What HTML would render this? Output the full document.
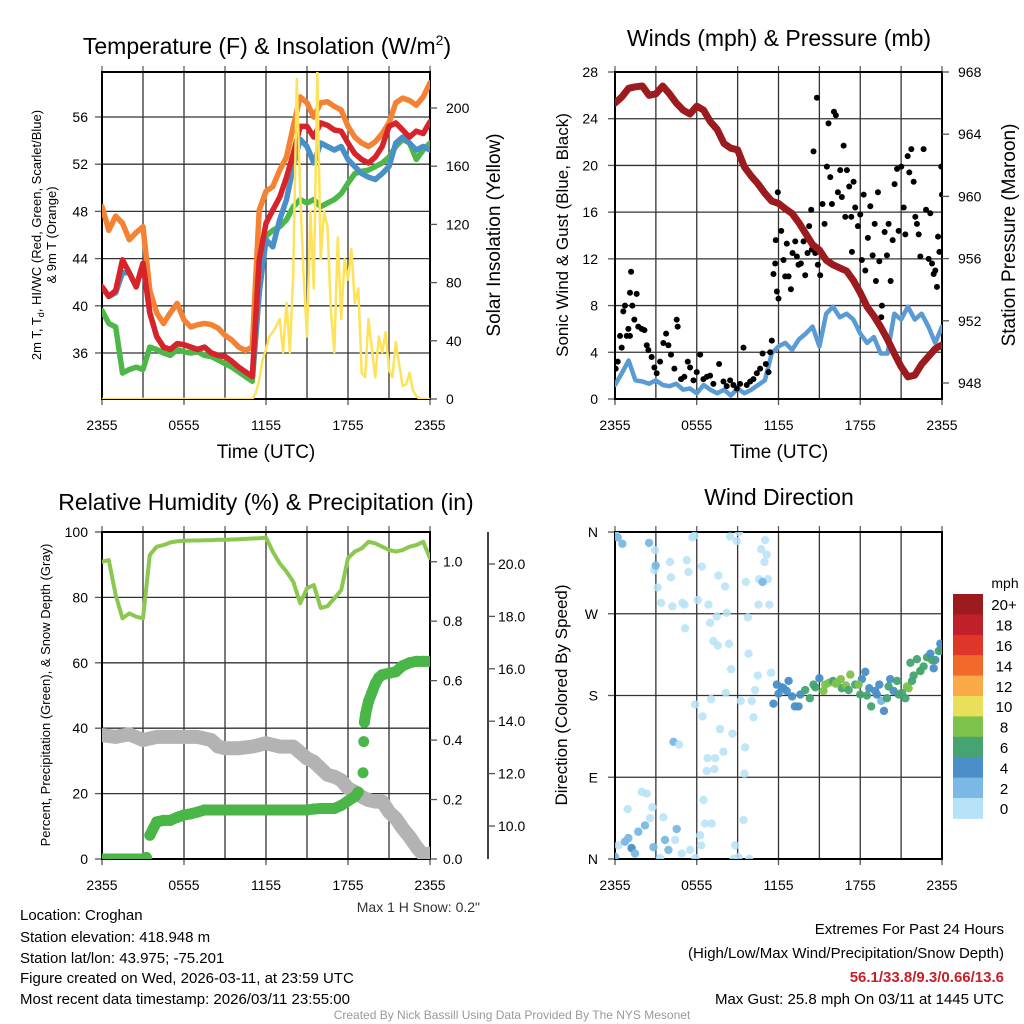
<!DOCTYPE html>
<html><head><meta charset="utf-8"><title>Croghan Mesonet Meteogram</title>
<style>
html,body{margin:0;padding:0;background:#fff;}
svg{display:block;font-family:"Liberation Sans",Arial,sans-serif;}
</style></head>
<body>
<svg id="fig" xmlns="http://www.w3.org/2000/svg" width="1024" height="1024" viewBox="0 0 1024 1024">
<rect x="0" y="0" width="1024" height="1024" fill="#fff"/>
<defs>
<clipPath id="c1"><rect x="102" y="72" width="328" height="327"/></clipPath>
<clipPath id="c2"><rect x="615" y="72" width="327" height="327"/></clipPath>
<clipPath id="c3"><rect x="102" y="532" width="328" height="327"/></clipPath>
<clipPath id="c4"><rect x="615" y="532" width="327" height="327"/></clipPath>
</defs>
<text x="267" y="54" font-size="23" text-anchor="middle">Temperature (F) &amp; Insolation (W/m<tspan dy="-9" font-size="14">2</tspan><tspan dy="9">)</tspan></text>
<text x="779" y="46" font-size="23" text-anchor="middle">Winds (mph) &amp; Pressure (mb)</text>
<text x="266" y="510" font-size="23" text-anchor="middle">Relative Humidity (%) &amp; Precipitation (in)</text>
<text x="779" y="505" font-size="23" text-anchor="middle">Wind Direction</text>
<text transform="translate(41,235) rotate(-90)" font-size="13" text-anchor="middle">2m T, T<tspan font-size="9" dy="3">d</tspan><tspan dy="-3">, HI/WC (Red, Green, Scarlet/Blue)</tspan></text>
<text transform="translate(56,235) rotate(-90)" font-size="13" text-anchor="middle">&amp; 9m T (Orange)</text>
<text transform="translate(500,235) rotate(-90)" font-size="19" text-anchor="middle">Solar Insolation (Yellow)</text>
<text x="266" y="458" font-size="19" text-anchor="middle">Time (UTC)</text>
<text transform="translate(568,235) rotate(-90)" font-size="17" text-anchor="middle">Sonic Wind &amp; Gust (Blue, Black)</text>
<text transform="translate(1015,235) rotate(-90)" font-size="19" text-anchor="middle">Station Pressure (Maroon)</text>
<text x="779" y="458" font-size="19" text-anchor="middle">Time (UTC)</text>
<text transform="translate(50,695) rotate(-90)" font-size="13" text-anchor="middle">Percent, Precipitation (Green), &amp; Snow Depth (Gray)</text>
<text transform="translate(567,695) rotate(-90)" font-size="17" text-anchor="middle">Direction (Colored By Speed)</text>
<text x="480" y="912" font-size="14" text-anchor="end" fill="#333">Max 1 H Snow: 0.2"</text>
<g font-size="15">
<text x="20" y="920">Location: Croghan</text>
<text x="20" y="942">Station elevation: 418.948 m</text>
<text x="20" y="963">Station lat/lon: 43.975; -75.201</text>
<text x="20" y="983">Figure created on Wed, 2026-03-11, at 23:59 UTC</text>
<text x="20" y="1004">Most recent data timestamp: 2026/03/11 23:55:00</text>
</g>
<g font-size="15" text-anchor="end">
<text x="1004" y="934">Extremes For Past 24 Hours</text>
<text x="1004" y="958">(High/Low/Max Wind/Precipitation/Snow Depth)</text>
<text x="1004" y="982" fill="#c8202a" font-weight="bold">56.1/33.8/9.3/0.66/13.6</text>
<text x="1004" y="1004">Max Gust: 25.8 mph On 03/11 at 1445 UTC</text>
</g>
<text x="512" y="1019" font-size="12" text-anchor="middle" fill="#999">Created By Nick Bassill Using Data Provided By The NYS Mesonet</text>
<text x="1005" y="588" font-size="14" text-anchor="middle">mph</text>
</svg>
<script>
// ===== DATA =====
const halfHours = Array.from({length:49},(_,i)=>i*0.5);
const xTickLabels = ["2355","0555","1155","1755","2355"];
const xTickHours = [0,6,12,18,24];
const temp9m = [48.4,46.4,47.6,47.0,45.6,46.2,46.7,41.3,39.4,38.5,39.4,40.2,38.8,38.2,38.4,38.5,38.4,38.1,37.5,37.1,36.5,36.2,36.5,48.1,49.7,50.1,51.5,52.6,55.2,57.7,57.2,56.0,57.2,57.3,56.9,56.6,55.2,54.3,53.8,53.5,53.9,54.6,55.5,57.2,57.6,57.4,57.0,57.7,58.9];
const temp2m = [41.6,40.8,41.3,43.9,42.8,41.6,43.6,39.4,37.4,36.5,36.3,36.8,36.7,36.5,36.3,36.5,36.0,35.8,35.7,35.3,34.8,34.4,34.0,43.9,47.0,48.1,49.2,50.9,52.9,55.2,55.2,54.3,55.5,55.3,54.9,54.8,53.8,52.9,52.4,52.1,52.6,53.5,55.2,55.5,54.9,54.3,54.8,54.6,55.6];
const dewpoint = [39.6,38.5,38.2,34.3,34.6,34.8,34.6,36.5,36.3,36.0,35.8,36.3,36.1,36.0,36.1,35.8,35.7,35.4,35.1,34.8,34.4,34.0,33.6,41.1,45.9,46.4,46.7,47.3,48.4,49.0,48.7,49.0,48.4,48.7,49.0,49.5,50.4,51.2,51.4,51.5,51.8,52.1,52.6,53.5,54.1,53.8,52.4,53.2,53.8];
const heatWindChill = [41.6,40.8,41.1,42.8,42.8,41.6,43.6,39.4,37.4,36.5,36.3,36.8,36.7,36.5,36.3,36.5,36.0,35.8,35.7,35.3,34.8,34.4,34.0,41.1,45.6,45.0,47.3,49.0,51.8,54.1,53.5,52.1,53.8,53.5,53.2,53.5,52.4,51.8,51.2,50.9,50.7,51.2,51.8,53.8,54.3,53.8,53.2,53.5,53.2];
const solarStartHour = 11;
const solar = [0,4,13,27,34,43,46,50,55,32,66,32,87,220,141,85,43,129,76,225,96,129,118,61,32,111,55,96,82,103,66,76,18,15,55,34,15,43,32,46,20,15,39,23,9,10,18,6,2,0,0,0,0];
const tempTicks = [36,40,44,48,52,56];
const solarTicks = [0,40,80,120,160,200];
const sonicWind = [1.2,2.2,3.3,1.6,1.5,1.3,1.6,1.2,1.1,1.3,0.8,0.9,0.5,1.2,0.8,0.5,0.8,0.3,0.9,0.5,0.8,1.2,1.6,3.9,4.5,4.8,4.2,5.1,5.6,6.2,4.5,7.3,7.9,7.0,7.3,6.8,5.6,4.8,5.3,3.9,3.9,7.3,6.8,7.9,6.8,7.3,6.2,4.8,6.2];
const pressure = [966.0,966.4,966.95,967.05,967.1,966.5,966.6,967.1,966.6,966.0,965.55,965.3,965.8,965.55,964.8,964.3,963.4,963.1,963.0,961.9,961.3,960.8,960.2,959.7,959.55,959.2,958.9,958.3,957.6,956.9,956.55,955.9,955.6,955.4,955.2,954.6,953.8,952.9,952.3,951.6,950.8,949.9,949.05,948.4,948.5,949.2,949.7,950.2,950.45];
const gustHours = [0.05,0.2,0.37,0.49,0.61,0.73,0.86,0.98,1.1,1.18,1.1,1.27,1.42,1.59,1.71,1.96,2.16,2.33,2.45,2.69,2.89,3.06,3.31,3.55,3.75,3.92,4.11,4.36,4.53,4.6,4.85,5.09,5.34,5.51,5.76,6.0,6.25,6.49,6.74,6.98,7.22,7.64,7.96,8.2,8.45,8.69,8.94,9.18,9.43,9.67,9.92,10.16,10.41,10.65,10.83,11.07,11.27,11.39,11.51,11.63,11.76,11.8,11.88,11.95,12.0,12.2,12.37,12.49,12.61,12.74,12.91,13.03,13.23,13.35,13.47,13.64,13.84,13.96,14.13,14.25,14.4,14.45,14.57,14.7,14.82,14.89,15.06,15.23,15.38,15.55,15.67,15.8,15.92,16.07,16.21,16.36,16.53,16.65,16.78,16.9,17.02,17.19,17.34,17.39,17.51,17.63,17.83,18.0,18.12,18.25,18.37,18.56,18.74,18.91,19.06,19.15,19.3,19.4,19.59,19.54,19.79,19.96,20.08,20.23,20.38,20.52,20.7,20.82,21.01,21.19,21.31,21.48,21.6,21.75,21.92,22.04,22.16,22.29,22.41,22.65,22.83,23.02,23.14,23.27,23.39,23.51,23.63,23.71,23.81,23.95,24.0];
const gustValues = [2.6,3.2,5.4,4.4,7.5,8.0,5.4,6.0,5.4,10.9,9.1,8.0,6.8,9.0,6.2,6.0,5.9,4.6,4.2,3.6,2.7,2.2,3.2,4.8,5.6,4.6,3.8,2.6,6.8,6.2,1.7,1.9,3.2,2.7,1.6,2.3,3.8,1.7,1.9,2.0,1.3,3.0,1.5,1.1,1.6,1.2,0.9,1.3,4.4,1.2,1.5,1.7,2.2,2.6,3.9,3.0,2.3,4.0,5.0,10.7,11.6,13.6,9.2,17.7,8.6,14.4,11.9,10.5,13.3,10.5,9.4,12.5,13.5,12.2,11.5,11.6,13.5,10.6,12.5,14.8,16.2,12.8,21.2,12.5,25.8,11.5,10.6,16.7,15.0,19.9,23.6,19.0,16.7,24.6,24.3,17.7,19.6,17.3,21.7,15.6,19.6,18.2,15.6,12.6,18.6,16.4,14.8,15.8,11.9,17.5,11.0,13.8,16.5,12.3,15.0,10.1,17.7,11.8,8.0,7.0,14.3,12.3,15.0,10.1,13.6,18.4,19.7,14.4,19.9,16.4,14.1,20.8,19.4,21.4,18.6,15.6,15.0,14.1,12.2,21.4,16.2,12.0,15.9,11.6,10.7,11.0,9.6,13.9,12.6,19.9,17.5];
const windTicks = [0,4,8,12,16,20,24,28];
const pressureTicks = [948,952,956,960,964,968];
const relHumidity = [90.9,91.4,80.7,73.6,75.1,74.1,73.6,93.0,95.5,96.0,96.8,97.2,97.3,97.4,97.4,97.5,97.5,97.6,97.6,97.7,97.8,97.9,98.0,98.1,98.3,94.0,90.4,87.9,84.8,78.2,82.8,83.8,76.8,77.3,79.7,82.2,92.0,94.0,95.0,97.0,96.5,95.5,94.5,94.0,94.5,95.5,96.0,97.0,92.0];
const precipHours = [0,1,2,3,3.25,3.5,4,4.5,5,5.5,6,6.5,7,7.5,8,9,10,11,12,13,14,15,15.5,16,17,17.5,18,18.5,18.75,19.1,19.15,19.2,19.3,19.5,19.75,20,20.25,20.5,21,21.5,22,22.5,23,23.5,24];
const precipValues = [0,0,0,0,0.005,0.08,0.125,0.13,0.13,0.14,0.148,0.152,0.158,0.165,0.165,0.165,0.165,0.165,0.165,0.165,0.165,0.165,0.168,0.17,0.17,0.18,0.195,0.21,0.225,0.29,0.395,0.46,0.49,0.53,0.56,0.59,0.61,0.62,0.625,0.63,0.65,0.66,0.665,0.665,0.665];
const snowHours = [0,1,2,3,4,5,6,7,8,8.5,9,10,11,12,13,14,15,15.5,16,16.5,17,17.5,18,18.5,19,19.5,20,20.5,21,21.5,22,22.5,23,23.5,24];
const snowDepth = [13.47,13.4,13.5,13.28,13.4,13.4,13.4,13.4,13.28,13.03,12.97,12.97,13.03,13.16,13.03,13.03,12.58,12.45,12.2,11.95,11.88,11.75,11.44,11.31,11.12,10.99,10.93,10.93,10.54,10.29,9.91,9.59,9.21,8.89,8.95];
const rhTicks = [0,20,40,60,80,100];
const precipTicks = [0,0.2,0.4,0.6,0.8,1.0];
const snowTicks = [10,12,14,16,18,20];
const dirHours = [0,0.24,0.73,0.98,1.22,1.47,1.71,1.96,2.33,2.2,2.57,2.74,2.82,0.93,3.55,3.67,3.92,4.53,4.41,4.9,4.29,4.7,5.51,6.25,6.32,6.49,6.61,7.1,6.8,6.74,7.35,7.3,7.96,7.71,8.62,9.55,9.5,9.43,8.82,9.06,9.85,8.7,3.31,5.9,
 5.88,6.42,7.05,8.13,9.23,10.04,10.16,10.28,10.48,11.46,8.52,9.8,8.37,7.54,7.22,5.14,6.98,7.47,8.2,9.75,
 3.38,4.21,4.95,5.1,6.07,6.86,8.08,7.59,6.37,5.39,4.11,4.04,3.13,2.89,2.94,2.5,2.99,5.27,5.68,5.83,8.45,8.94,9.11,9.6,10.53,11.33,10.58,11.22,10.83,10.97,11.14,11.02,10.73,0,0.2,0.54,
 11.63,11.88,12.25,12.6,13.0,13.2,13.6,13.96,14.3,14.7,15.0,15.3,15.7,16.0,16.3,16.65,16.95,17.27,17.63,18.0,18.37,18.12,18.66,18.8,19.1,19.4,19.54,19.74,19.96,20.2,20.45,20.7,20.82,21.06,21.31,21.55,21.68,21.92,22.16,22.41,22.65,22.9,23.14,23.39,23.51,23.76,23.88,24,
 12.0,12.37,12.74,13.47,14.57,15.43,16.2,16.57,17.15,17.88,18.49,19.22,20.08,21.43,21.8,22.41,23.27];
const dirDegrees = [2.5,15,19,23,12,6,30,74,72,37,45,57,13,55,46,21,10,33,21,6,129,126,10,26,15,65,39,39,111,97,111,99,118,143,138,123,94,43,15,2,0,0,1,1,
 170,157,176,183,174,174,156,186,202,205,209,226,237,235,240,254,260,267,271,266,
 282,278,282,280,285,280,300,312,322,316,310,327,299,318,340,348,323,329,354,356,355,350,360,305,280,280,308,308,305,327,335,351,341,358,354,347,
 171,192,189,185,179,168,181,186,177,189,199,185,194,196,194,188,191,203,192,181,206,198,188,168,185,192,174,163,177,198,185,196,181,183,177,188,216,202,220,207,212,222,226,210,219,229,237,229,
 182,188,196,168,192,192,193,198,186,192,180,181,190,190,196,207,219];
const dirSpeeds = [3,1,3,3,5,3,3,1,1,3,1,1,3,1,1,3,3,3,1,1,3,1,1,1,1,1,1,1,1,1,1,1,1,1,1,1,1,1,1,1,1,1,1,1,
 1,1,1,1,1,1,1,1,1,1,1,1,1,1,1,1,1,1,1,1,
 1,1,1,1,1,1,1,1,1,1,1,1,1,1,1,3,3,1,1,1,1,1,1,1,1,1,1,1,3,1,1,1,1,1,3,3,
 5,5,5,5,5,5,5,7,7,7,5,9,9,7,9,7,9,9,7,7,5,5,5,7,5,5,3,5,7,5,5,7,7,7,7,9,7,7,7,9,7,7,5,5,5,7,5,7,
 5,5,5,5,7,9,9,9,7,9,7,5,7,9,7,7,7];
const dirTicks = [0,90,180,270,360];
const dirTickLabels = ["N","E","S","W","N"];
const speedBins = [0,2,4,6,8,10,12,14,16,18,20];
const speedBinLabels = ["0","2","4","6","8","10","12","14","16","18","20+"];
const speedColors = ["#b6e2f7","#7ab8e6","#4a8fc8","#45a471","#7dc24b","#e8e05a","#f9a945","#f26a2b","#e0362a","#c0202a","#9b1b1e"];

// ===== DRAWING =====
const svg = document.getElementById('fig');
const NS = 'http://www.w3.org/2000/svg';
function mk(parent, tag, attrs, name){
  const el = document.createElementNS(NS, tag);
  for (const k in attrs) el.setAttribute(k, attrs[k]);
  
  
  parent.appendChild(el);
  return el;
}
function lin(d0,d1,r0,r1){ return v => r0 + (v-d0)/(d1-d0)*(r1-r0); }

const panels = {
  p1:{x0:102,x1:430,y0:72,y1:399},
  p2:{x0:615,x1:942,y0:72,y1:399},
  p3:{x0:102,x1:430,y0:532,y1:859},
  p4:{x0:615,x1:942,y0:532,y1:859}
};
for (const k in panels){ const p=panels[k]; p.x = lin(0,24,p.x0,p.x1); }

function drawFrame(p, key, yScale, ticks, labels, lx){
  const g = mk(svg,'g',{},key+'-axes');
  for (let h=3; h<24; h+=3){
    mk(g,'line',{x1:p.x(h),x2:p.x(h),y1:p.y0,y2:p.y1,stroke:'#333','stroke-width':1.3},key+'-vertical-gridline');
  }
  ticks.forEach((v,i)=>{
    const y = yScale(v);
    if (y>p.y0+1 && y<p.y1-1){
      mk(g,'line',{x1:p.x0,x2:p.x1,y1:y,y2:y,stroke:'#333','stroke-width':1.3},key+'-horizontal-gridline');
    }
    mk(g,'line',{x1:p.x0-7,x2:p.x0,y1:y,y2:y,stroke:'#555','stroke-width':1.3},key+'-left-tick');
    const tl = mk(g,'text',{x:lx,y:y+5,'font-size':14,'text-anchor':'end'},key+'-left-tick-label');
    tl.textContent = labels[i];
  });
  xTickHours.forEach((h,i)=>{
    mk(g,'line',{x1:p.x(h),x2:p.x(h),y1:p.y1,y2:p.y1+6,stroke:'#555','stroke-width':1.3},key+'-x-tick');
    const tl = mk(g,'text',{x:p.x(h),y:p.y1+31,'font-size':14,'text-anchor':'middle'},key+'-x-tick-label');
    tl.textContent = xTickLabels[i];
  });
  for (let h=0; h<=24; h+=3){
    mk(g,'line',{x1:p.x(h),x2:p.x(h),y1:p.y0,y2:p.y0-6,stroke:'#555','stroke-width':1.2},key+'-top-tick');
  }
  mk(g,'rect',{x:p.x0,y:p.y0,width:p.x1-p.x0,height:p.y1-p.y0,fill:'none',stroke:'#000','stroke-width':2},key+'-plot-frame');
  return g;
}
function rightAxis(p,key,scale,ticks,labels,ax,lx){
  const g = mk(svg,'g',{},key+'-right-axis');
  ticks.forEach((v,i)=>{
    const y=scale(v);
    mk(g,'line',{x1:ax,x2:ax+7,y1:y,y2:y,stroke:'#555','stroke-width':1.3},key+'-right-tick');
    const tl = mk(g,'text',{x:lx,y:y+5,'font-size':14,'text-anchor':'start'},key+'-right-tick-label');
    tl.textContent = labels[i];
  });
  return g;
}
function pathFrom(xs, ys){
  let d='';
  xs.forEach((x,i)=>{ d += (i?'L':'M') + x.toFixed(1) + ',' + ys[i].toFixed(1); });
  return d;
}
function line(g, p, hours, vals, scale, color, w, name){
  const d = pathFrom(hours.map(p.x), vals.map(scale));
  return mk(g,'path',{d:d,fill:'none',stroke:color,'stroke-width':w,'stroke-linejoin':'round','stroke-linecap':'round'},name);
}

// ---- Panel 1 ----
const P1 = panels.p1;
P1.y = lin(36,56,353,117);
const solY = lin(0,200,399,108);
drawFrame(P1,'temperature',P1.y,tempTicks,tempTicks.map(String),88);
rightAxis(P1,'solar',solY,solarTicks,solarTicks.map(String),430,446);
const g1 = mk(svg,'g',{'clip-path':'url(#c1)'},'temperature-series');
line(g1,P1,halfHours,temp9m,P1.y,'#f58232',5.5,'orange-9m-temperature-line');
line(g1,P1,halfHours,dewpoint,P1.y,'#4db848',5.5,'green-dewpoint-line');
line(g1,P1,halfHours,heatWindChill,P1.y,'#4a90c8',5.5,'blue-heat-index-windchill-line');
line(g1,P1,halfHours,temp2m,P1.y,'#d7232a',5.5,'red-2m-temperature-line');
const solarHours = [0].concat(solar.map((v,i)=>solarStartHour+i*0.25));
const solarVals = [0].concat(solar);
line(g1,P1,solarHours,solarVals,solY,'#fde25a',2.5,'yellow-solar-insolation-line');

// ---- Panel 2 ----
const P2 = panels.p2;
P2.y = lin(0,28,399,72);
const presY = lin(948,968,383,72);
drawFrame(P2,'wind',P2.y,windTicks,windTicks.map(String),598);
rightAxis(P2,'pressure',presY,pressureTicks,pressureTicks.map(String),942,958);
const g2 = mk(svg,'g',{'clip-path':'url(#c2)'},'wind-series');
line(g2,P2,halfHours,sonicWind,P2.y,'#5a9bd4',4.5,'blue-sonic-wind-line');
gustHours.forEach((h,i)=>{
  mk(g2,'circle',{cx:P2.x(h),cy:P2.y(gustValues[i]),r:3,fill:'#000'},'black-gust-point');
});
line(g2,P2,halfHours,pressure,presY,'#9b1b1e',7,'maroon-pressure-line');

// ---- Panel 3 ----
const P3 = panels.p3;
P3.y = lin(0,100,859,532);
const prY = lin(0,1.1,859,532);
const snY = lin(10,20,826,564);
drawFrame(P3,'humidity',P3.y,rhTicks,rhTicks.map(String),88);
rightAxis(P3,'precip',prY,precipTicks,precipTicks.map(v=>v.toFixed(1)),430,443);
mk(svg,'line',{x1:488,x2:488,y1:532,y2:859,stroke:'#000','stroke-width':1.5},'snow-depth-axis-line');
rightAxis(P3,'snow',snY,snowTicks,snowTicks.map(v=>v.toFixed(1)),488,498);
const g3 = mk(svg,'g',{'clip-path':'url(#c3)'},'humidity-series');
line(g3,P3,halfHours,relHumidity,P3.y,'#8cc850',4,'light-green-humidity-line');
line(g3,P3,snowHours,snowDepth,snY,'#b3b3b3',14,'gray-snow-depth-line');
precipValues.forEach((v,i)=>{
  if (i>0 && Math.abs(v-precipValues[i-1])<0.05){
    mk(g3,'line',{x1:P3.x(precipHours[i-1]),y1:prY(precipValues[i-1]),x2:P3.x(precipHours[i]),y2:prY(v),stroke:'#4bb648','stroke-width':11,'stroke-linecap':'round'},'green-precipitation-segment');
  }
  mk(g3,'circle',{cx:P3.x(precipHours[i]),cy:prY(v),r:5.5,fill:'#4bb648'},'green-precipitation-point');
});

// ---- Panel 4 ----
const P4 = panels.p4;
P4.y = lin(0,360,859,532);
drawFrame(P4,'direction',P4.y,dirTicks,dirTickLabels,598);
const g4 = mk(svg,'g',{'clip-path':'url(#c4)'},'direction-series');
function speedColor(s){ let k=0; for(let i=0;i<speedBins.length;i++){ if(s>=speedBins[i]) k=i; } return speedColors[k]; }
dirHours.forEach((h,i)=>{
  mk(g4,'circle',{cx:P4.x(h),cy:P4.y(dirDegrees[i]),r:4.2,fill:speedColor(dirSpeeds[i]),'fill-opacity':dirSpeeds[i]<2?0.85:0.95},'direction-point');
});
const cb = mk(svg,'g',{},'speed-colorbar');
const boxH = 20.4, cbTop = 594;
for (let i=0;i<speedColors.length;i++){
  const idx = speedColors.length-1-i;
  mk(cb,'rect',{x:953,y:cbTop+i*boxH,width:30,height:boxH+0.5,fill:speedColors[idx]},'colorbar-box');
  const t = mk(cb,'text',{x:1004,y:cbTop+i*boxH+boxH/2+6,'font-size':15,'text-anchor':'middle'},'colorbar-label');
  t.textContent = speedBinLabels[idx];
}
</script>
</body></html>
